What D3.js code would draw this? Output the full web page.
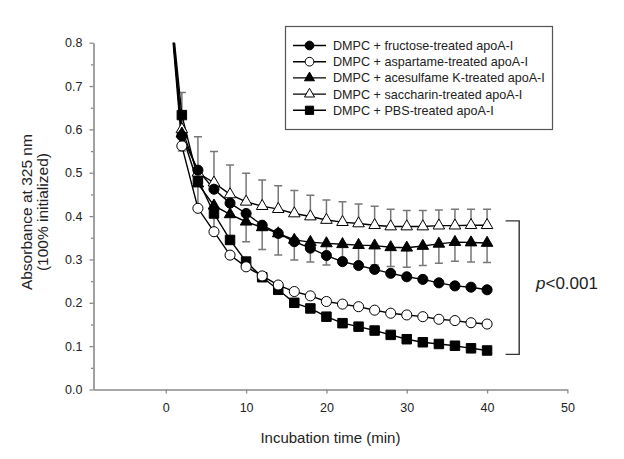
<!DOCTYPE html>
<html>
<head>
<meta charset="utf-8">
<script src="https://cdn.jsdelivr.net/npm/d3@7"></script>
<style>
  body { margin: 0; background: #fff; }
  svg { display: block; }
  text { font-family: "Liberation Sans", Arial, sans-serif; fill: #222; }
</style>
</head>
<body>
<svg id="chart" width="624" height="459"></svg>
<script>
// ---- data ----
const times = [0, 2, 4, 6, 8, 10, 12, 14, 16, 18, 20, 22, 24, 26, 28, 30, 32, 34, 36, 38, 40];
const fructose   = [1.0, 0.585, 0.506, 0.462, 0.430, 0.406, 0.379, 0.360, 0.341, 0.326, 0.309, 0.295, 0.286, 0.277, 0.268, 0.260, 0.254, 0.246, 0.239, 0.236, 0.230];
const aspartame  = [1.0, 0.562, 0.418, 0.364, 0.310, 0.283, 0.262, 0.241, 0.226, 0.216, 0.203, 0.197, 0.191, 0.183, 0.176, 0.172, 0.168, 0.162, 0.159, 0.154, 0.151];
const acesulfame = [1.0, 0.590, 0.475, 0.424, 0.404, 0.387, 0.374, 0.360, 0.345, 0.340, 0.337, 0.335, 0.333, 0.332, 0.328, 0.327, 0.331, 0.336, 0.340, 0.339, 0.338];
const saccharin  = [1.0, 0.600, 0.500, 0.477, 0.450, 0.433, 0.423, 0.416, 0.406, 0.399, 0.391, 0.386, 0.383, 0.379, 0.376, 0.376, 0.376, 0.378, 0.378, 0.379, 0.379];
const pbs        = [1.0, 0.633, 0.485, 0.406, 0.345, 0.295, 0.259, 0.230, 0.200, 0.187, 0.168, 0.153, 0.145, 0.136, 0.126, 0.116, 0.109, 0.105, 0.101, 0.095, 0.090];
const saccharinErrUp   = [0, 0.085, 0.083, 0.072, 0.068, 0.066, 0.060, 0.054, 0.053, 0.049, 0.046, 0.047, 0.045, 0.044, 0.040, 0.037, 0.037, 0.036, 0.038, 0.037, 0.037];
const acesulfameErrLow = [0, 0.040, 0.060, 0.060, 0.066, 0.046, 0.051, 0.050, 0.046, 0.046, 0.050, 0.043, 0.042, 0.045, 0.044, 0.045, 0.045, 0.045, 0.044, 0.045, 0.045];
const seriesNames = [
  "DMPC + fructose-treated apoA-I",
  "DMPC + aspartame-treated apoA-I",
  "DMPC + acesulfame K-treated apoA-I",
  "DMPC + saccharin-treated apoA-I",
  "DMPC + PBS-treated apoA-I"
];
const yTicks = [0.0, 0.1, 0.2, 0.3, 0.4, 0.5, 0.6, 0.7, 0.8];
const yMinorTicks = [0.05, 0.15, 0.25, 0.35, 0.45, 0.55, 0.65, 0.75];
const xTicks = [0, 10, 20, 30, 40, 50];
const bracketRange = [0.389, 0.081];
const pLabel = "<0.001";

// ---- layout ----
const svg = d3.select("#chart");
const x = d3.scaleLinear().domain([-9, 50]).range([93.5, 567.4]);
const y = d3.scaleLinear().domain([0, 0.8]).range([389.5, 42.7]);
const axisColor = "#8a8a8a";

svg.append("defs").append("clipPath").attr("id", "plotclip")
  .append("rect").attr("x", x(-9)).attr("y", y(0.8)).attr("width", x(50) - x(-9)).attr("height", y(0) - y(0.8));

// axes
const yAxis = svg.append("g").attr("transform", `translate(${x(-9)},0)`)
  .call(d3.axisLeft(y).tickValues(yTicks).tickFormat(d3.format(".1f")).tickSize(4).tickSizeOuter(0).tickPadding(7));
const yMinor = svg.append("g").attr("transform", `translate(${x(-9)},0)`)
  .call(d3.axisLeft(y).tickValues(yMinorTicks).tickFormat("").tickSize(2.5).tickSizeOuter(0));
yMinor.select(".domain").remove();
const xAxis = svg.append("g").attr("transform", `translate(0,${y(0)})`)
  .call(d3.axisBottom(x).tickValues(xTicks).tickSize(4).tickSizeOuter(0).tickPadding(10));
[yAxis, yMinor, xAxis].forEach(g => {
  g.selectAll(".domain").attr("stroke", axisColor).attr("stroke-width", 1.6);
  g.selectAll(".tick line").attr("stroke", axisColor).attr("stroke-width", 1.3);
  g.selectAll(".tick text").attr("font-size", 12.5).attr("fill", "#222")
    .attr("font-family", "Liberation Sans, Arial, sans-serif");
});

// axis titles
svg.append("text").attr("x", x(20.5)).attr("y", 443).attr("text-anchor", "middle")
  .attr("font-size", 15).text("Incubation time (min)");
const yt = svg.append("text").attr("transform", `translate(32,${(y(0) + y(0.8)) / 2 - 4}) rotate(-90)`)
  .attr("text-anchor", "middle").attr("font-size", 15.5);
yt.append("tspan").attr("x", 0).attr("dy", 0).text("Absorbance at 325 nm");
yt.append("tspan").attr("x", 0).attr("dy", 16).text("(100% initialized)");

// ---- data ----
const series = [
  { name: seriesNames[0], vals: fructose,   type: d3.symbolCircle,   size: 80, fill: "#000" },
  { name: seriesNames[1], vals: aspartame,  type: d3.symbolCircle,   size: 80, fill: "#fff" },
  { name: seriesNames[2], vals: acesulfame, type: d3.symbolTriangle, size: 58, fill: "#000" },
  { name: seriesNames[3], vals: saccharin,  type: d3.symbolTriangle, size: 58, fill: "#fff" },
  { name: seriesNames[4], vals: pbs,        type: d3.symbolSquare,   size: 90, fill: "#000" }
];

const plot = svg.append("g").attr("clip-path", "url(#plotclip)");

// error bars
function errBars(vals, errs, dir) {
  const g = plot.append("g").attr("stroke", "#777").attr("stroke-width", 1.5);
  times.forEach((t, i) => {
    if (!errs[i]) return;
    const y1 = y(vals[i]), y2 = y(vals[i] + dir * errs[i]);
    g.append("line").attr("x1", x(t)).attr("x2", x(t)).attr("y1", y1).attr("y2", y2);
    g.append("line").attr("x1", x(t) - 4).attr("x2", x(t) + 4).attr("y1", y2).attr("y2", y2);
  });
}
errBars(saccharin, saccharinErrUp, 1);
errBars(acesulfame, acesulfameErrLow, -1);

const line = d3.line().x((d, i) => x(times[i])).y(d => y(d));
series.forEach(s => {
  plot.append("path").datum(s.vals).attr("d", line)
    .attr("fill", "none").attr("stroke", "#000").attr("stroke-width", 1.4);
});
series.slice().reverse().forEach(s => {
  plot.append("g").selectAll("path").data(s.vals).join("path")
    .attr("transform", (d, i) => `translate(${x(times[i])},${y(d)})`)
    .attr("d", d3.symbol().type(s.type).size(s.size))
    .attr("fill", s.fill).attr("stroke", "#000").attr("stroke-width", 1);
});

// bracket + p value
const bx = x(42.3), bx2 = x(44.0);
svg.append("path")
  .attr("d", `M${bx},${y(bracketRange[0])}H${bx2}V${y(bracketRange[1])}H${bx}`)
  .attr("fill", "none").attr("stroke", "#333").attr("stroke-width", 1.4);
const pt = svg.append("text").attr("x", 536).attr("y", 289).attr("font-size", 17);
pt.append("tspan").attr("font-style", "italic").text("p");
pt.append("tspan").text(pLabel);

// legend
const lg = svg.append("g");
lg.append("rect").attr("x", 285.5).attr("y", 26.5).attr("width", 267).attr("height", 103)
  .attr("fill", "#fff").attr("stroke", "#555").attr("stroke-width", 1.2);
series.forEach((s, i) => {
  const cy = 45.5 + i * 16.2;
  lg.append("line").attr("x1", 293).attr("x2", 326).attr("y1", cy).attr("y2", cy)
    .attr("stroke", "#000").attr("stroke-width", 1.4);
  lg.append("path").attr("transform", `translate(309.5,${cy})`)
    .attr("d", d3.symbol().type(s.type).size(s.size * 0.75))
    .attr("fill", s.fill).attr("stroke", "#000").attr("stroke-width", 1);
  lg.append("text").attr("x", 333).attr("y", cy).attr("dy", "0.35em")
    .attr("font-size", 12.6).text(s.name);
});
</script>
</body>
</html>
